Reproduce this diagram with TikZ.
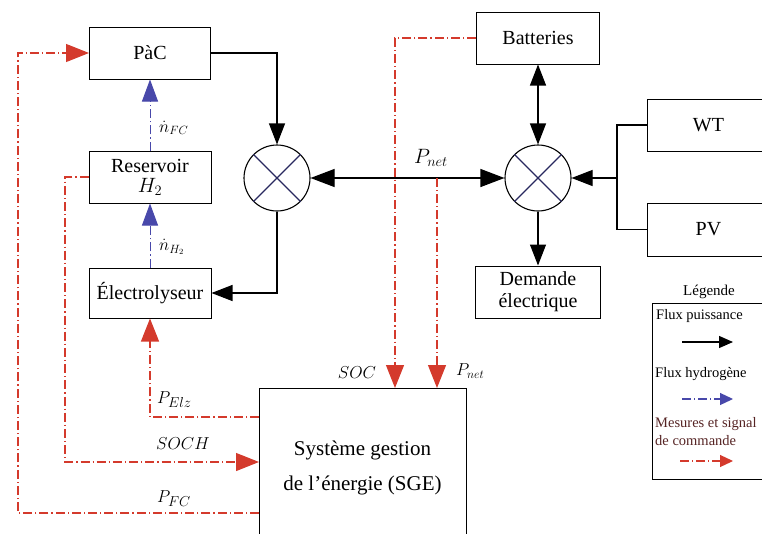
\documentclass[tikz,border=0pt]{standalone}
\usepackage{fontspec}
\setmainfont{Liberation Serif}
\usetikzlibrary{arrows.meta}
\definecolor{sigred}{RGB}{212,58,44}
\definecolor{hydblue}{RGB}{72,72,170}
\definecolor{xblue}{RGB}{40,40,95}
\definecolor{legred}{RGB}{85,35,35}
\begin{document}
\begin{tikzpicture}[x=1pt,y=-1pt,
  box/.style={draw, line width=1pt, inner sep=0pt, align=center, font=\fontsize{20}{22}\selectfont},
  mixer/.style={draw, circle, line width=1.1pt, minimum size=66pt, inner sep=0pt},
  pw/.style={line width=1.1pt, -{Triangle[length=21pt,width=16pt]}},
  pwboth/.style={line width=1.1pt, {Triangle[length=24pt,width=18pt]}-{Triangle[length=24pt,width=18pt]}},
  pline/.style={line width=1.1pt},
  sig/.style={draw=sigred, line width=1.1pt, dash pattern=on 9pt off 3pt on 1.2pt off 3pt, -{Triangle[length=23pt,width=18pt,fill=sigred]}},
  hyd/.style={draw=hydblue, line width=1pt, dash pattern=on 9pt off 3pt on 1.2pt off 3pt, -{Triangle[length=22pt,width=16pt,fill=hydblue]}},
  lbl/.style={inner sep=0pt, font=\fontsize{19}{21}\selectfont},
  legtxt/.style={inner sep=0pt, anchor=west, font=\fontsize{14.5}{16}\selectfont}]
\useasboundingbox (0,0) rectangle (762,533);

% boxes
\node[box, minimum width=121pt, minimum height=52pt] (pac) at (150,53) {PàC};
\node[box, minimum width=122pt, minimum height=52pt] (res) at (150,177) {Reservoir\\[-2pt]$H_2$};
\node[box, minimum width=122pt, minimum height=50pt] (elec) at (150,293) {Électrolyseur};
\node[box, minimum width=123pt, minimum height=52pt] (bat) at (538,38) {Batteries};
\node[box, minimum width=125pt, minimum height=52pt] (dem) at (538,292) {Demande\\électrique};
\node[box, minimum width=123pt, minimum height=52pt] (wt) at (708.5,125) {WT};
\node[box, minimum width=123pt, minimum height=53pt] (pv) at (708.5,229.5) {PV};
\node[box, minimum width=207pt, minimum height=160pt, font=\fontsize{21}{35}\selectfont] (sge) at (362.5,468) {Système gestion\\de l'énergie (SGE)};

% mixers
\node[mixer] (m1) at (277,178) {};
\node[mixer] (m2) at (538,178) {};
\foreach \m in {m1,m2}{
  \draw[xblue, line width=1.1pt] (\m.45) -- (\m.225);
  \draw[xblue, line width=1.1pt] (\m.135) -- (\m.315);
}

% power flows
\draw[pw] (pac.east) -| (m1.north);
\draw[pw] (m1.south) |- (elec.east);
\draw[pwboth] (m1.east) -- (m2.west);
\draw[pwboth, {Triangle[length=21pt,width=16pt]}-{Triangle[length=21pt,width=16pt]}] (bat.south) -- (m2.north);
\coordinate (jn) at (617,178);
\draw[pline] (wt.west) -| (jn);
\draw[pline] (pv.west) -| (jn);
\draw[pw] (jn) -- (m2.east);
\draw[pw] (m2.south) -- (dem.north);
\node[lbl, font=\fontsize{21}{23}\selectfont] (pnetl) at (431,158) {$P_{net}$};

% hydrogen flows
\draw[hyd] (res.north) -- (pac.south);
\draw[hyd] (elec.north) -- (res.south);
\node[lbl, anchor=west, font=\fontsize{17}{19}\selectfont] (nfc) at (159,128) {$\dot{n}_{FC}$};
\node[lbl, anchor=west, font=\fontsize{17}{19}\selectfont] (nh2) at (159,247) {$\dot{n}_{H_2}$};

% signals
\coordinate (socin) at (395,388);
\coordinate (pnetsrc) at (437,178);
\coordinate (pnetin) at (437,388);
\draw[sig] (bat.west) -| (socin);
\draw[sig] (pnetsrc) -- (pnetin);
\node[lbl, font=\fontsize{17}{19}\selectfont] (socl) at (357,373) {$SOC$};
\node[lbl, anchor=west, font=\fontsize{17}{19}\selectfont] (pnetl2) at (456,371) {$P_{net}$};

\coordinate (pelzout) at (259,417);
\draw[sig] (pelzout) -| (elec.south);
\node[lbl, anchor=west] (pelzl) at (157,400) {$P_{Elz}$};

\coordinate (sochc1) at (65,177);
\coordinate (sochc2) at (65,462);
\coordinate (sochin) at (259,462);
\draw[sig] (res.west) -- (sochc1) -- (sochc2) -- (sochin);
\node[lbl, anchor=west] (sochl) at (156,444) {$SOCH$};

\coordinate (pfcout) at (259,513);
\coordinate (pfcc1) at (18,513);
\coordinate (pfcc2) at (18,53);
\draw[sig] (pfcout) -- (pfcc1) -- (pfcc2) -- (pac.west);
\node[lbl, anchor=west] (pfcl) at (157,499) {$P_{FC}$};

% legend
\node[inner sep=0pt, font=\fontsize{15}{17}\selectfont] (legt) at (709,292) {Légende};
\node[draw, line width=1pt, minimum width=130pt, minimum height=176pt, anchor=north west] (leg) at (652,303) {};
\node[legtxt] (l1) at (656,316) {Flux puissance};
\coordinate (a1s) at (682,342); \coordinate (a1e) at (733,342);
\draw[line width=1.3pt, -{Triangle[length=14pt,width=12pt]}] (a1s) -- (a1e);
\node[legtxt] (l2) at (655,374) {Flux hydrogène};
\coordinate (a2s) at (682,399); \coordinate (a2e) at (733,399);
\draw[hyd, line width=1.2pt, -{Triangle[length=13pt,width=12pt,fill=hydblue]}] (a2s) -- (a2e);
\node[legtxt, text=legred] (l3) at (655,424) {Mesures et signal};
\node[legtxt, text=legred] (l4) at (655,441) {de commande};
\coordinate (a3s) at (680,461); \coordinate (a3e) at (733,461);
\draw[sig, line width=1.2pt, -{Triangle[length=13pt,width=12pt,fill=sigred]}] (a3s) -- (a3e);
\end{tikzpicture}
\end{document}
